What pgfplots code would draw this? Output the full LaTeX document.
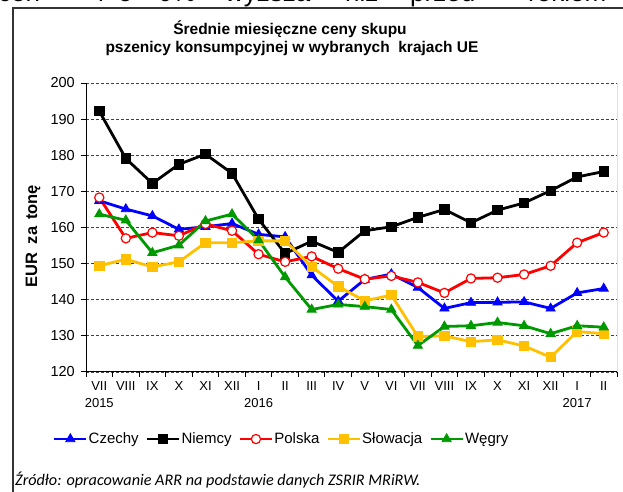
\documentclass[border=0pt]{standalone}
\usepackage{pgfplots}
\pgfplotsset{compat=1.18}
\usepackage{fontspec}
\setmainfont{Liberation Sans}
\newfontfamily\calibri{Carlito}

\definecolor{czblue}{RGB}{0,0,255}
\definecolor{plred}{RGB}{255,0,0}
\definecolor{skorange}{RGB}{255,192,0}
\definecolor{hugreen}{RGB}{0,153,0}

\pgfplotstableread{
x Czechy Niemcy Polska Slowacja Wegry
0  167.4 192.2 168.3 149.4 163.7
1  165.1 179.1 157.0 151.2 162.0
2  163.2 172.2 158.6 149.1 153.0
3  159.5 177.5 157.7 150.5 155.1
4  160.2 180.3 161.0 155.8 161.8
5  161.1 175.0 159.1 155.8 163.7
6  158.1 162.3 152.6 156.3 156.5
7  157.4 152.8 150.5 156.3 146.3
8  146.8 156.2 152.0 149.1 137.3
9  139.6 153.1 148.6 143.7 138.7
10 145.6 159.1 145.7 139.7 138.1
11 147.1 160.2 146.6 141.3 137.3
12 143.4 162.8 144.8 129.8 127.3
13 137.6 165.0 141.9 130.0 132.6
14 139.2 161.3 145.9 128.4 132.8
15 139.3 164.8 146.1 128.9 133.7
16 139.4 166.8 147.0 127.2 132.8
17 137.6 170.2 149.4 124.1 130.6
18 141.9 174.0 155.8 131.2 132.8
19 143.1 175.5 158.6 130.6 132.4
}\prices

\begin{document}
\begin{tikzpicture}[x=1bp,y=1bp]
\useasboundingbox (0bp,0bp) rectangle (623bp,492bp);
% cropped line of text from the page above
\begin{scope}[every node/.style={anchor=base west, inner sep=0pt, font=\fontsize{26bp}{28bp}\selectfont}]
\node at (-2bp,490bp) {cen};
\node at (98bp,490bp) {i};
\node at (118bp,490bp) {o};
\node at (158bp,490bp) {0\%};
\node at (225bp,490bp) {wyższa};
\node at (345bp,490bp) {niż};
\node at (410bp,490bp) {przed};
\node at (528bp,490bp) {rokiem};
\end{scope}
% frame
\draw[line width=1.1bp, black!80] (13bp,-10bp) -- (13bp,484bp) -- (640bp,484bp);
% title
\node[anchor=base, inner sep=0pt, font=\fontsize{15.5bp}{18bp}\selectfont\bfseries] at (290bp,457bp) {Średnie miesięczne ceny skupu};
\node[anchor=base, inner sep=0pt, font=\fontsize{15.5bp}{18bp}\selectfont\bfseries] at (292bp,439bp) {pszenicy konsumpcyjnej w wybranych\ \ krajach UE};
% y axis label
\node[rotate=90, anchor=center, inner sep=0pt, font=\fontsize{16.5bp}{18bp}\selectfont\bfseries] at (33bp,256bp) {EUR\hspace{8bp}za\hspace{7bp}tonę};
% source
\node[anchor=base west, inner sep=0pt, font=\calibri\itshape\fontsize{16.2bp}{18bp}\selectfont] at (15bp,7bp) {Źródło: opracowanie ARR na podstawie danych ZSRIR MRiRW.};

\begin{axis}[
  at={(86bp,120bp)}, anchor=south west,
  scale only axis, width=531bp, height=289bp,
  xmin=-0.5, xmax=19.5, ymin=120, ymax=200,
  axis x line*=bottom, axis y line*=left,
  axis line style={line width=1bp, black},
  ytick={120,130,...,200},
  xtick={0,...,19},
  xticklabels={{VII\\2015},VIII,IX,X,XI,XII,{I\\2016},II,III,IV,V,VI,VII,VIII,IX,X,XI,XII,{I\\2017},II},
  minor xtick={-0.5,0.5,...,19.5},
  tick align=outside,
  major x tick style={draw=none},
  minor x tick style={black, line width=1bp},
  ytick style={black, line width=1bp},
  major tick length=5bp, minor tick length=5bp,
  ymajorgrids,
  major grid style={dash pattern=on 3bp off 2bp, black!75, line width=0.9bp},
  /pgf/number format/assume math mode=true,
  yticklabel style={font=\fontsize{14.5bp}{16bp}\selectfont, inner sep=2bp, xshift=-4bp},
  xticklabel style={align=center, font=\fontsize{13bp}{17bp}\selectfont, inner sep=2bp, yshift=-2bp},
  legend columns=5,
  legend style={at={(axis description cs:0.3675,-0.232)}, anchor=center, draw=none, fill=none,
    font=\fontsize{15bp}{17bp}\selectfont,
    /tikz/every even column/.append style={column sep=6bp},
    nodes={inner sep=1bp}},
  legend image code/.code={\draw[mark repeat=2,mark phase=2,#1] plot coordinates {(0bp,0bp) (16bp,0bp) (32bp,0bp)};},
  every axis plot/.append style={line width=2.8bp},
]
\addplot[czblue, mark=triangle*, mark size=5.3bp, mark options={solid, fill=czblue, line width=0.8bp}] table[x=x, y=Czechy] {\prices};
\addlegendentry{Czechy}
\addplot[black, mark=square*, mark size=4.7bp, mark options={solid, fill=black, line width=0.8bp}] table[x=x, y=Niemcy] {\prices};
\addlegendentry{Niemcy}
\addplot[plred, mark=*, mark size=4.6bp, mark options={solid, fill=white, draw=plred, line width=1.2bp}] table[x=x, y=Polska] {\prices};
\addlegendentry{Polska}
\addplot[skorange, mark=square*, mark size=4.7bp, mark options={solid, fill=skorange, line width=0.8bp}] table[x=x, y=Slowacja] {\prices};
\addlegendentry{Słowacja}
\addplot[hugreen, mark=triangle*, mark size=5.3bp, mark options={solid, fill=hugreen, line width=0.8bp}] table[x=x, y=Wegry] {\prices};
\addlegendentry{Węgry}
\draw[black, line width=1bp] (rel axis cs:1,0) -- (rel axis cs:1,1);
\end{axis}
\end{tikzpicture}
\end{document}
